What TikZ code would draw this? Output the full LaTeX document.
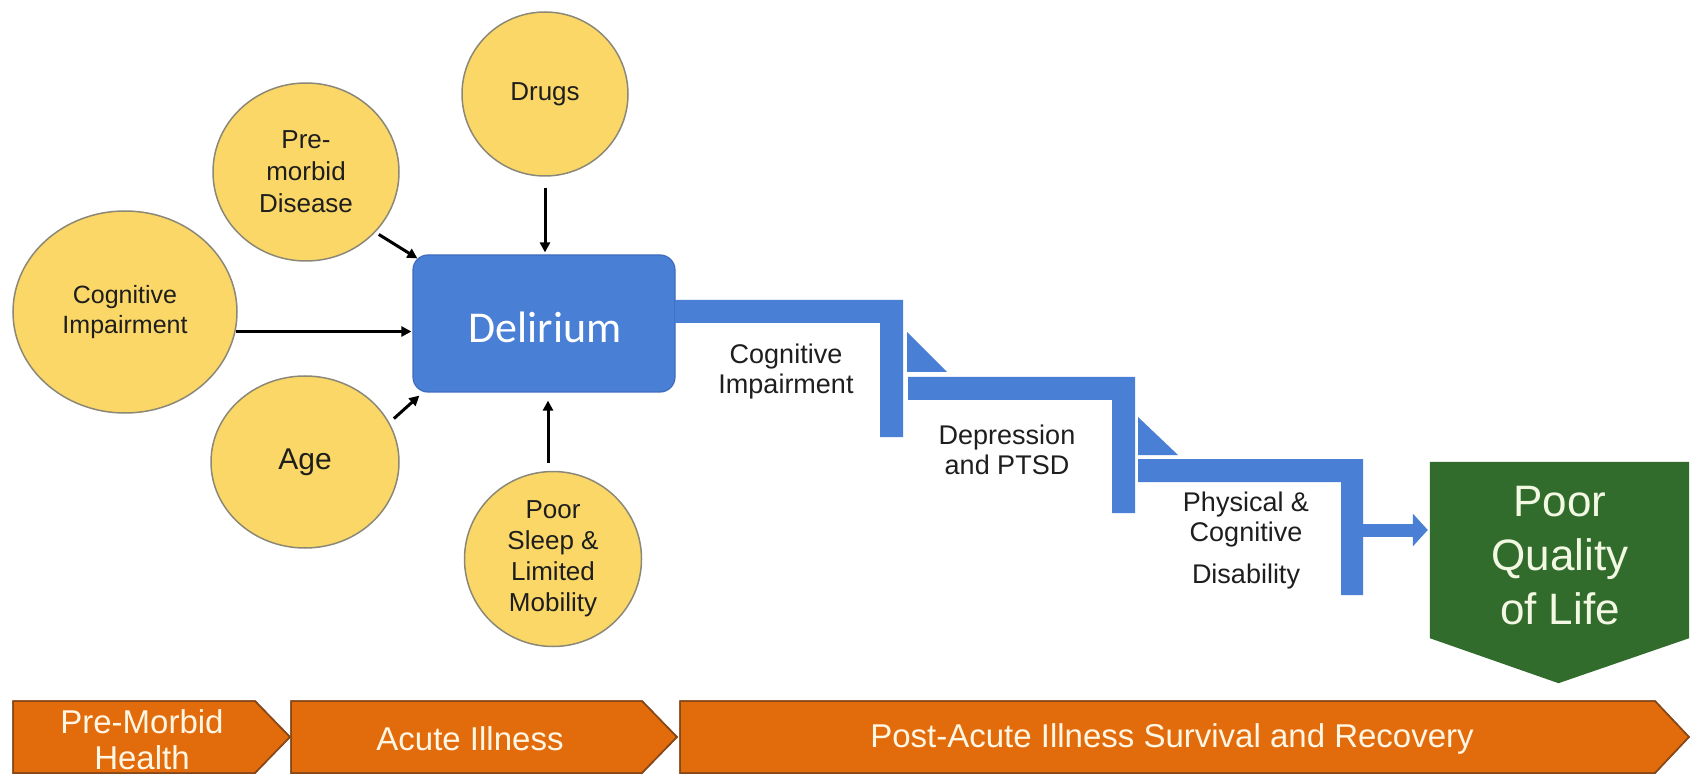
\documentclass[tikz,border=0pt]{standalone}
\usepackage{fontspec}
\setmainfont{Liberation Sans}
\newfontfamily\titlefont{Carlito}
\usetikzlibrary{shapes.geometric,arrows.meta,calc}

\definecolor{sunyellow}{RGB}{250,215,102}
\definecolor{ringgray}{RGB}{140,136,120}
\definecolor{inkdark}{RGB}{30,30,30}
\definecolor{stairblue}{RGB}{74,127,214}
\definecolor{boxedge}{RGB}{62,108,190}
\definecolor{leafgreen}{RGB}{50,108,45}
\definecolor{paletext}{RGB}{242,248,226}
\definecolor{phaseorange}{RGB}{226,108,12}
\definecolor{phaseedge}{RGB}{135,72,25}
\definecolor{creamtext}{RGB}{255,246,228}

\begin{document}
\begin{tikzpicture}[x=1pt,y=-1pt,
  factor/.style={ellipse, draw=ringgray, line width=1.5pt, fill=sunyellow,
    inner sep=0pt, align=center, text=inkdark,
    font=\fontsize{26}{32}\selectfont},
  arr/.style={draw=black, line width=3pt, -{Triangle[length=10pt,width=10pt]}},
  delbox/.style={rectangle, rounded corners=15pt, fill=stairblue, draw=boxedge,
    line width=1.2pt, inner sep=0pt},
  stair/.style={fill=stairblue},
  steplabel/.style={align=center, text=inkdark, inner sep=0pt,
    font=\fontsize{27}{30}\selectfont},
  phase/.style={fill=phaseorange, draw=phaseedge, line width=1.5pt},
  phaselabel/.style={align=center, text=creamtext, inner sep=0pt,
    font=\fontsize{33}{36}\selectfont}]

\useasboundingbox (0,0) rectangle (1692,775);
\fill[white] (0,0) rectangle (1692,775);

% risk factors
\node[factor, minimum width=166pt, minimum height=164pt] (drugs) at (545,94) {Drugs};
\node[factor, minimum width=186pt, minimum height=178pt] (pre) at (306,172) {Pre-\\morbid\\Disease};
\node[factor, minimum width=224pt, minimum height=202pt, font=\fontsize{25}{30}\selectfont] (cog) at (125,312) {Cognitive\\Impairment};
\node[factor, minimum width=188pt, minimum height=172pt, font=\fontsize{30}{34}\selectfont] (age) at (305,462) {Age};
\node[factor, minimum width=177pt, minimum height=175pt, font=\fontsize{26}{31}\selectfont] (sleep) at (553,559) {Poor\\Sleep \&\\Limited\\Mobility};

% delirium
\node[delbox, minimum width=262pt, minimum height=137pt] (del) at (544,323.5) {};
\node[text=white, inner sep=0pt, font=\titlefont\fontsize{44}{48}\selectfont] (deltext) at (545,327) {Delirium};

% arrows into delirium
\draw[arr, shorten <=11pt, shorten >=2pt] (drugs.south) -- (drugs.south |- del.north);
\draw[arr, shorten <=8pt, shorten >=8pt] ([xshift=-5pt]sleep.north) -- ([xshift=-5pt]sleep.north |- del.south);
\draw[arr, shorten >=1pt] (cog.-10) -- (cog.-10 -| del.west);
\draw[arr, shorten <=4pt] (pre.-41) -- ($(del.north west)+(5,4)$);
\draw[arr, shorten <=6pt] (age.25) -- ($(del.south west)+(7,3)$);

% staircase of outcomes
\fill[stair] (675,300) -- (903,300) -- (903,437) -- (880,437) -- (880,323) -- (675,323) -- cycle;
\fill[stair] (907,332) -- (907,372) -- (947,372) -- cycle;
\fill[stair] (908,377) -- (1135,377) -- (1135,513) -- (1112,513) -- (1112,400) -- (908,400) -- cycle;
\fill[stair] (1138,417) -- (1138,455) -- (1178,455) -- cycle;
\fill[stair] (1138,459) -- (1363,459) -- (1363,595) -- (1341,595) -- (1341,482) -- (1138,482) -- cycle;

\node[steplabel] (lab1) at (786,372) {Cognitive\\Impairment};
\node[steplabel] (lab2) at (1007,450) {Depression\\and PTSD};
\node[steplabel] (lab3) at (1246,541) {Physical \&\\Cognitive\\[12pt]Disability};

% poor quality of life
\node[rectangle, inner sep=0pt, minimum width=259pt, minimum height=176pt] (qol) at (1559.5,550) {};
\fill[leafgreen] (qol.north west) -- (qol.north east) -- (qol.south east)
  -- ($(qol.south)+(-1,45)$) -- (qol.south west) -- cycle;
\node[align=center, text=paletext, inner sep=0pt, font=\fontsize{44}{54}\selectfont] (qoltext) at (1560,556) {Poor\\Quality\\of Life};

\coordinate (stairend) at (1363,530);
\draw[stairblue, line width=13pt, -{Triangle[length=15pt,width=32pt]}, shorten >=2pt]
  (stairend) -- (stairend -| qol.west);

% phases of illness
\fill[phase] (13,701) -- (255,701) -- (290,737) -- (255,773) -- (13,773) -- cycle;
\fill[phase] (291,701) -- (642,701) -- (677,737) -- (642,773) -- (291,773) -- cycle;
\fill[phase] (680,701) -- (1655,701) -- (1689,737) -- (1655,773) -- (680,773) -- cycle;
\draw[phaseedge, line width=1.5pt] (13,701) -- (255,701) -- (290,737) -- (255,773) -- (13,773) -- cycle;
\draw[phaseedge, line width=1.5pt] (291,701) -- (642,701) -- (677,737) -- (642,773) -- (291,773) -- cycle;
\draw[phaseedge, line width=1.5pt] (680,701) -- (1655,701) -- (1689,737) -- (1655,773) -- (680,773) -- cycle;

\node[phaselabel] (ph1) at (142,740) {Pre-Morbid\\Health};
\node[phaselabel] (ph2) at (470,739) {Acute Illness};
\node[phaselabel] (ph3) at (1172,739) {Post-Acute Illness Survival and Recovery};

\end{tikzpicture}
\end{document}
